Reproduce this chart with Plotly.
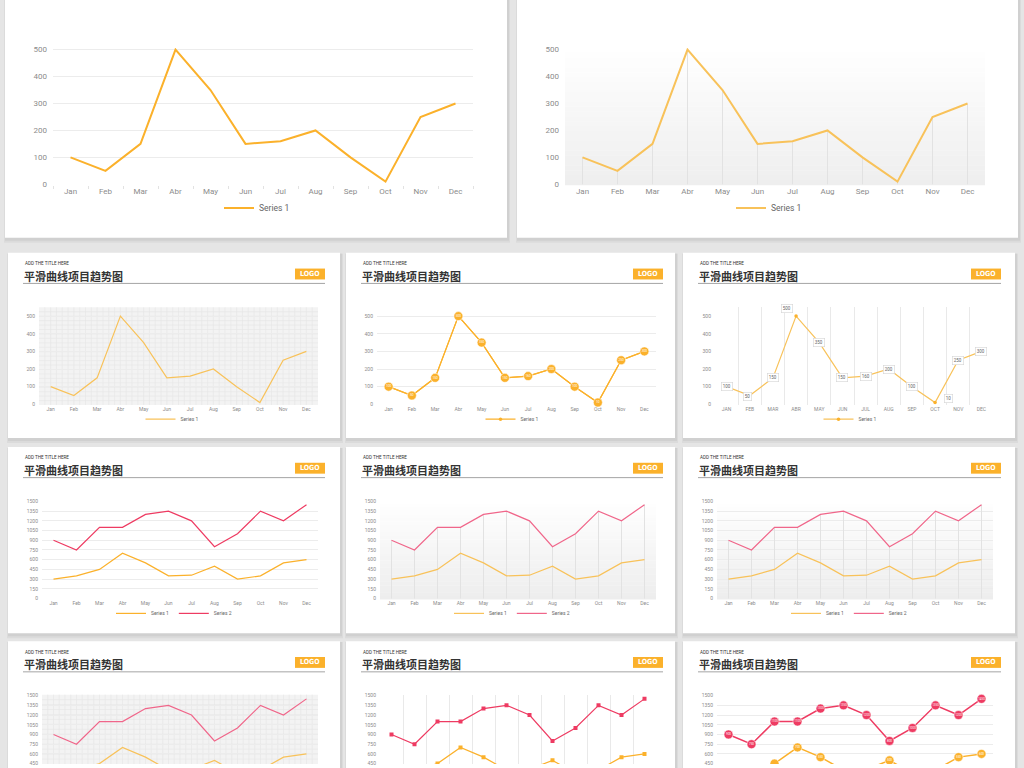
import plotly.graph_objects as go

# ---------------- data ----------------
months = ["Jan", "Feb", "Mar", "Abr", "May", "Jun", "Jul", "Aug", "Sep", "Oct", "Nov", "Dec"]
months_caps = ["JAN", "FEB", "MAR", "ABR", "MAY", "JUN", "JUL", "AUG", "SEP", "OCT", "NOV", "DEC"]
series1 = [100, 50, 150, 500, 350, 150, 160, 200, 100, 10, 250, 300]
dual_series1 = [300, 350, 450, 700, 550, 350, 360, 500, 300, 350, 550, 600]
dual_series2 = [900, 750, 1100, 1100, 1300, 1350, 1200, 800, 1000, 1350, 1200, 1450]
single_ticks = [0, 100, 200, 300, 400, 500]
dual_ticks = [0, 150, 300, 450, 600, 750, 900, 1050, 1200, 1350, 1500]
series_names = ["Series 1", "Series 2"]
title_en = "ADD THE TITLE HERE"
title_zh = "平滑曲线项目趋势图"
logo_text = "LOGO"

# ---------------- style ----------------
W, H = 1024, 768
BG = "#e5e5e5"
ORANGE = "#FBB12B"
ORANGE_L = "#F8C25A"
RED = "#EE3B62"
RED_L = "#F0668A"
TICK_C = "#8c8c8c"
FONT = "Roboto"


def pxx(x):
    return min(max(x / W, 0), 1)


def pyy(y):
    return min(max(1 - y / H, 0), 1)


layout = dict(
    width=W, height=H, margin=dict(l=0, r=0, t=0, b=0),
    paper_bgcolor=BG, plot_bgcolor="rgba(0,0,0,0)",
    font=dict(family=FONT, color="#666"), showlegend=True,
    hovermode=False,
)
shapes = []
annotations = []
fig = go.Figure()


def prect(x0, y0, x1, y1, fill):
    shapes.append(dict(type="rect", xref="paper", yref="paper", layer="below",
                       x0=x0 / W, x1=x1 / W, y0=1 - y1 / H, y1=1 - y0 / H,
                       fillcolor=fill, line=dict(width=0)))


# ---------------- panels ----------------
panels = [(5, -6, 507, 237), (517, -6, 1018, 237)]
row_tops = [252, 448, 644]
row_bottoms = [439, 636, 790]
cols = [(8, 340), (346, 675), (683, 1015)]
for rt, rb in zip(row_tops, row_bottoms):
    for cx0, cx1 in cols:
        panels.append((cx0, rt, cx1, rb))
for (x0, y0, x1, y1) in panels:
    prect(x0 - 1, y0 + 1, x1 + 3, y1 + 5, "#dbdbdb")
    prect(x0, y0 + 1, x1 + 2, y1 + 3, "#d0d0d0")
    prect(x0, y0, x1, y1, "#ffffff")

# panel headers
for rt in row_tops:
    for (cx0, cx1), tx, lx1 in zip(cols, [23, 361, 698], [325, 663, 1001]):
        annotations.append(dict(xref="paper", yref="paper", x=pxx(tx), y=pyy(rt + 11),
                                text=title_en, showarrow=False, xanchor="left", yanchor="middle",
                                font=dict(size=4.6, color="#333", family="Roboto")))
        annotations.append(dict(xref="paper", yref="paper", x=pxx(tx - 1), y=pyy(rt + 23.5),
                                text="<b>" + title_zh + "</b>", showarrow=False, xanchor="left",
                                yanchor="middle",
                                font=dict(size=11, color="#333", family="Noto Sans CJK SC")))
        shapes.append(dict(type="line", xref="paper", yref="paper", layer="above",
                           x0=pxx(tx), x1=pxx(lx1), y0=pyy(rt + 31), y1=pyy(rt + 31),
                           line=dict(color="#a4a4a4", width=1)))
        shapes.append(dict(type="rect", xref="paper", yref="paper", layer="above",
                           x0=pxx(lx1 - 30), x1=pxx(lx1), y0=pyy(rt + 27), y1=pyy(rt + 16),
                           fillcolor=ORANGE, line=dict(width=0)))
        annotations.append(dict(xref="paper", yref="paper", x=pxx(lx1 - 15), y=pyy(rt + 21.5),
                                text="<b>" + logo_text + "</b>", showarrow=False,
                                xanchor="center", yanchor="middle",
                                font=dict(size=7, color="#ffffff",
                                          family="Liberation Sans Narrow, DejaVu Sans Condensed")))


# ---------------- helpers ----------------
def sfx(i):
    return "" if i == 1 else str(i)


def make_axes(i, x0, x1, px_lo, px_hi, r0, r1, tickvals, cats, fs,
              hgrid=True, vgrid=None, xline=False, standoff=3, xlabels=True):
    s = sfx(i)
    xa = dict(domain=[pxx(x0), pxx(x1)], anchor="y" + s, type="category",
              categoryorder="array", categoryarray=cats, range=[-0.5, 11.5],
              fixedrange=True, zeroline=False,
              showgrid=vgrid is not None, gridcolor="#e9e9e9", gridwidth=1,
              tickson=vgrid if vgrid else "labels",
              ticks="", tickfont=dict(size=fs, color=TICK_C, family=FONT),
              showline=False, showticklabels=xlabels)
    if xline:
        xa.update(tickson="boundaries", ticks="outside", ticklen=3, tickcolor="#e2e2e2",
                  showline=False)
    ya = dict(domain=[pyy(px_lo), pyy(px_hi)], anchor="x" + s, range=[r0, r1],
              tickvals=tickvals, showgrid=hgrid, gridcolor="#ececec", gridwidth=1,
              zeroline=False, fixedrange=True, showline=False, ticks="",
              ticklabelstandoff=standoff,
              tickfont=dict(size=fs, color=TICK_C, family=FONT))
    layout["xaxis" + s] = xa
    layout["yaxis" + s] = ya


def gradient(i, top="#ffffff", bottom="#ececec", n=28):
    s = sfx(i)

    def hx(c):
        return [int(c[k:k + 2], 16) for k in (1, 3, 5)]
    t, b = hx(top), hx(bottom)
    for k in range(n):
        f = (k + 0.5) / n
        col = "rgb(%d,%d,%d)" % tuple(round(t[j] + (b[j] - t[j]) * f) for j in range(3))
        shapes.append(dict(type="rect", xref="x" + s + " domain", yref="y" + s + " domain",
                           layer="below", x0=0, x1=1, y0=1 - (k + 1) / n, y1=1 - k / n + 0.002,
                           fillcolor=col, line=dict(width=0)))


def paper_grid(i, nv=48, nh=22):
    s = sfx(i)
    shapes.append(dict(type="rect", xref="x" + s + " domain", yref="y" + s + " domain",
                       layer="below", x0=0, x1=1, y0=0, y1=1,
                       fillcolor="#f3f3f3", line=dict(width=0)))
    for k in range(1, nv):
        shapes.append(dict(type="line", xref="x" + s + " domain", yref="y" + s + " domain",
                           layer="below", x0=k / nv, x1=k / nv, y0=0, y1=1,
                           line=dict(color="#e6e6e6", width=0.6)))
    for k in range(1, nh):
        shapes.append(dict(type="line", xref="x" + s + " domain", yref="y" + s + " domain",
                           layer="below", x0=0, x1=1, y0=k / nh, y1=k / nh,
                           line=dict(color="#e6e6e6", width=0.6)))


def drop_lines(i, cats, vals):
    s = sfx(i)
    fig.add_trace(go.Scatter(x=cats, y=vals, mode="markers",
                             marker=dict(size=1, color="rgba(0,0,0,0)"),
                             error_y=dict(type="data", symmetric=False, array=[0] * len(vals),
                                          arrayminus=vals, color="#e2e2e2", thickness=1, width=0),
                             xaxis="x" + s, yaxis="y" + s, showlegend=False, hoverinfo="skip"))


def line(i, cats, vals, name, color, width, legend_on=True, marker=None, text=None, tfs=3.5,
         clip=True):
    s = sfx(i)
    mode = "lines"
    kw = {}
    if marker is not None:
        mode += "+markers"
        kw["marker"] = marker
    if text is not None:
        mode += "+text"
        kw["text"] = text
        kw["textposition"] = "middle center"
        kw["textfont"] = dict(size=tfs, color="#ffffff", family=FONT)
    fig.add_trace(go.Scatter(x=cats, y=vals, mode=mode, name=name,
                             line=dict(color=color, width=width),
                             xaxis="x" + s, yaxis="y" + s, showlegend=legend_on,
                             legend="legend" + s, cliponaxis=clip, **kw))


def legend(i, cx, cy, fs):
    layout["legend" + sfx(i)] = dict(x=pxx(cx), y=pyy(cy), xanchor="center", yanchor="middle",
                                     orientation="h", bgcolor="rgba(0,0,0,0)",
                                     font=dict(size=fs, color="#666", family=FONT),
                                     itemwidth=30, tracegroupgap=0)


def ypix(v_lo, p_lo, v_hi, p_hi, r):
    k = (p_lo - p_hi) / (v_hi - v_lo)
    return p_lo - (r - v_lo) * k


# ---------------- top panels ----------------
for i, (x0, x1, cx) in zip([1, 2], [(53, 473, 257), (565, 985, 769)]):
    r0, r1 = -3, 506
    make_axes(i, x0, x1, ypix(0, 183, 500, 47, r0), ypix(0, 183, 500, 47, r1), r0, r1,
              single_ticks, months, 8, hgrid=(i == 1), vgrid=None, xline=(i == 1), standoff=5)
    legend(i, cx, 207, 8.5)
gradient(2, "#ffffff", "#eeeeee")
drop_lines(2, months, series1)
line(1, months, series1, series_names[0], ORANGE, 2)
line(2, months, series1, series_names[0], ORANGE_L, 2)

# ---------------- row 2 (single series) ----------------
T = 252
r0, r1 = -4, 550
plo, phi = ypix(0, T + 153, 500, T + 64, r0), ypix(0, T + 153, 500, T + 64, r1)
make_axes(3, 39, 318, plo, phi, r0, r1, single_ticks, months, 5, hgrid=True)
paper_grid(3)
line(3, months, series1, series_names[0], ORANGE_L, 1.2)
legend(3, 172, T + 168, 5)

make_axes(4, 377, 656, plo, phi, r0, r1, single_ticks, months, 5, hgrid=True)
# small-marker version carries the legend entry; the labelled circles sit on top of it
line(4, months, series1, series_names[0], ORANGE, 1.2, marker=dict(size=3.5, color=ORANGE))
line(4, months, series1, series_names[0], ORANGE, 1.2, legend_on=False,
     marker=dict(size=9, color=ORANGE, line=dict(color="rgba(255,255,255,0.7)", width=0.8)),
     text=[str(v) for v in series1], tfs=3.2, clip=False)
legend(4, 512, T + 168, 5)

make_axes(5, 715, 993, plo, phi, r0, r1, single_ticks, months_caps, 5, hgrid=False,
          vgrid="boundaries")
line(5, months_caps, series1, series_names[0], ORANGE_L, 1.2,
     marker=dict(size=3.5, color=ORANGE))
legend(5, 850, T + 168, 5)
label_shift = {3: (-9, 8), 9: (13, 4), 1: (-2, -1)}
for k, (m, v) in enumerate(zip(months_caps, series1)):
    dx, dy = label_shift.get(k, (0, 0))
    annotations.append(dict(xref="x5", yref="y5", x=m, y=v, text=str(v), showarrow=False,
                            xshift=dx, yshift=dy, bgcolor="#ffffff", bordercolor="#d4d4d4",
                            borderwidth=0.6, borderpad=1.2,
                            font=dict(size=4.5, color="#666", family=FONT)))

# ---------------- row 3 (two series) ----------------
T = 448
r0, r1 = -15, 1515
plo, phi = ypix(0, T + 153, 1500, T + 55, r0), ypix(0, T + 153, 1500, T + 55, r1)
make_axes(6, 42, 318, plo, phi, r0, r1, dual_ticks, months, 5, hgrid=True)
line(6, months, dual_series1, series_names[0], ORANGE, 1.2)
line(6, months, dual_series2, series_names[1], RED, 1.2)
legend(6, 174, T + 168, 5)

make_axes(7, 380, 656, plo, phi, r0, r1, dual_ticks, months, 5, hgrid=False)
gradient(7, "#ffffff", "#ededed")
drop_lines(7, months, dual_series2)
line(7, months, dual_series1, series_names[0], ORANGE_L, 1.2)
line(7, months, dual_series2, series_names[1], RED_L, 1.2)
legend(7, 512, T + 168, 5)

make_axes(8, 717, 993, plo, phi, r0, r1, dual_ticks, months, 5, hgrid=True)
gradient(8, "#ffffff", "#ededed")
drop_lines(8, months, dual_series2)
line(8, months, dual_series1, series_names[0], ORANGE_L, 1.2)
line(8, months, dual_series2, series_names[1], RED_L, 1.2)
legend(8, 849, T + 168, 5)

# ---------------- row 4 (two series, cut off at the window edge) ----------------
T = 644
r1 = 1515
p_zero, p_top = T + 153, T + 55
r0 = 0 + (p_zero - H) * 1500 / (p_zero - p_top)
phi = ypix(0, p_zero, 1500, p_top, r1)
make_axes(9, 42, 318, H, phi, r0, r1, dual_ticks, months, 5, hgrid=True, xlabels=False)
paper_grid(9, 48, 14)
line(9, months, dual_series1, series_names[0], ORANGE_L, 1.2, legend_on=False)
line(9, months, dual_series2, series_names[1], RED_L, 1.2, legend_on=False)

make_axes(10, 380, 656, H, phi, r0, r1, dual_ticks, months, 5, hgrid=False, vgrid="boundaries",
          xlabels=False)
line(10, months, dual_series1, series_names[0], ORANGE, 1.2, legend_on=False,
     marker=dict(size=4, color=ORANGE, symbol="square"))
line(10, months, dual_series2, series_names[1], RED, 1.2, legend_on=False,
     marker=dict(size=4, color=RED, symbol="square"))

make_axes(11, 717, 993, H, phi, r0, r1, dual_ticks, months, 5, hgrid=True, xlabels=False)
# only label the circles that fall inside the visible window
vis_min = r0 + 25
line(11, months, dual_series1, series_names[0], ORANGE, 1.5, legend_on=False,
     marker=dict(size=9, color=ORANGE, line=dict(color="rgba(255,255,255,0.7)", width=0.8)),
     text=[str(v) if v >= vis_min else "" for v in dual_series1], tfs=3, clip=True)
line(11, months, dual_series2, series_names[1], RED, 1.5, legend_on=False,
     marker=dict(size=9, color=RED, line=dict(color="rgba(255,255,255,0.7)", width=0.8)),
     text=[str(v) for v in dual_series2], tfs=3, clip=False)
for i in (9, 10, 11):
    legend(i, 500, 900, 5)

layout["shapes"] = shapes
layout["annotations"] = annotations
fig.update_layout(**layout)
fig.write_html(
    "out.html",
    config={"displayModeBar": False, "staticPlot": True},
    post_script="document.body.style.margin='0';document.body.style.overflow='hidden';"
                "document.body.style.background='" + BG + "';",
)
